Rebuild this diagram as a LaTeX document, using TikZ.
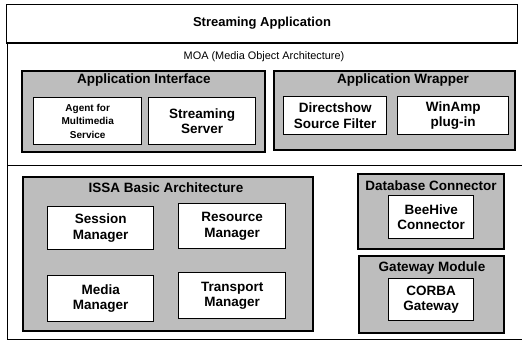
\documentclass[tikz,border=0pt]{standalone}
\usepackage{fontspec}
\setmainfont{Liberation Sans}
\tikzset{
  shadedbox/.style={draw, line width=1.6pt, fill=black!26, anchor=north west, inner sep=0pt},
  whitebox/.style={draw, line width=1.4pt, fill=white, anchor=north west, inner sep=0pt, align=center,
    font=\bfseries\fontsize{13.5}{15.5}\selectfont},
  smallbox/.style={whitebox, font=\bfseries\fontsize{10}{13.5}\selectfont},
  grouptitle/.style={font=\bfseries\fontsize{13.5}{15}\selectfont, inner sep=0pt},
  frameline/.style={line width=1pt}
}
\begin{document}
\begin{tikzpicture}[x=1pt, y=-1pt]
\useasboundingbox (0,0) rectangle (522,341);
% top bar
\node[draw, line width=1pt, anchor=north west, minimum width=511pt, minimum height=38pt, inner sep=0pt,
  font=\bfseries\fontsize{13}{15}\selectfont] (app) at (6,4) {Streaming Application};
\draw[line width=2.5pt] (app.south west) -- (app.south east);
% MOA frame
\coordinate (moaTL) at (7,44);
\coordinate (moaBL) at (7,339);
\coordinate (moaBR) at (522,339);
\coordinate (sepL) at (7,165);
\coordinate (sepR) at (522,165);
\draw[frameline] (moaTL) -- (moaBL) -- (moaBR);
\draw[frameline] (sepL) -- (sepR);
\node[font=\fontsize{10.9}{13}\selectfont] (moa) at (264,57) {MOA (Media Object Architecture)};
% Application Interface
\node[shadedbox, minimum width=243pt, minimum height=81pt] (ai) at (21,70) {};
\node[grouptitle] (aiT) at (144,80) {Application Interface};
\node[smallbox, minimum width=108pt, minimum height=47pt] (agent) at (33,97) {Agent for\\Multimedia\\Service};
\node[whitebox, minimum width=107pt, minimum height=47pt] (ss) at (148,97) {Streaming\\Server};
% Application Wrapper
\node[shadedbox, minimum width=241pt, minimum height=79pt] (aw) at (273,70) {};
\node[grouptitle] (awT) at (403,80) {Application Wrapper};
\node[whitebox, minimum width=103pt, minimum height=38pt] (ds) at (283,96) {Directshow\\Source Filter};
\node[whitebox, minimum width=111pt, minimum height=38pt] (wa) at (397,96) {WinAmp\\plug-in};
% ISSA
\node[shadedbox, minimum width=290pt, minimum height=154pt] (issa) at (22,176) {};
\node[grouptitle] (issaT) at (166,188) {ISSA Basic Architecture};
\node[whitebox, minimum width=106pt, minimum height=43pt] (sm) at (47,206) {Session\\Manager};
\node[whitebox, minimum width=107pt, minimum height=45pt] (rm) at (178,203) {Resource\\Manager};
\node[whitebox, minimum width=106pt, minimum height=46pt] (mm) at (47,275) {Media\\Manager};
\node[whitebox, minimum width=107pt, minimum height=46pt] (tm) at (178,272) {Transport\\Manager};
% Database Connector
\node[shadedbox, minimum width=146pt, minimum height=75pt] (dc) at (357,173) {};
\node[grouptitle] (dcT) at (431,186) {Database Connector};
\node[whitebox, minimum width=85pt, minimum height=43pt] (bh) at (388,195) {BeeHive\\Connector};
% Gateway Module
\node[shadedbox, minimum width=145pt, minimum height=77pt] (gm) at (358,255) {};
\node[grouptitle] (gmT) at (432,268) {Gateway Module};
\node[whitebox, minimum width=85pt, minimum height=42pt] (cg) at (388,278) {CORBA\\Gateway};
\end{tikzpicture}
\end{document}
